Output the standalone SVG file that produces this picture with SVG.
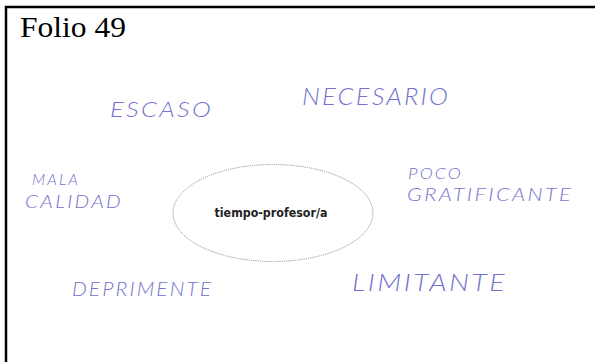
<svg xmlns="http://www.w3.org/2000/svg" width="595" height="362" viewBox="0 0 595 362">
<style>
.hw{font-family:"Lato","Open Sans","DejaVu Sans",sans-serif;font-weight:300;font-style:italic;fill:#7472cc;letter-spacing:2px}
.title{font-family:"Liberation Serif","Times New Roman",serif;font-size:29px;fill:#000}
.center{font-family:"DejaVu Sans","Liberation Sans",sans-serif;font-weight:bold;font-size:11.5px;fill:#222}
</style>
<rect x="0" y="0" width="595" height="362" fill="#fff"/>
<g id="frame">
<path d="M6 362 V7 H595" fill="none" stroke="#000" stroke-width="2.5"/>
</g>
<g id="title"><text class="title" x="20" y="37" textLength="106" lengthAdjust="spacingAndGlyphs">Folio 49</text></g>
<g id="connectors"></g>
<g id="node-center">
<ellipse cx="273" cy="213" rx="100" ry="48.5" fill="none" stroke="#888" stroke-width="0.9" stroke-dasharray="1.2 1"/>
<text class="center" x="271" y="217" text-anchor="middle" textLength="113" lengthAdjust="spacingAndGlyphs">tiempo-profesor/a</text>
</g>
<g id="node-escaso"><text class="hw" x="110" y="117" font-size="22" textLength="103" lengthAdjust="spacingAndGlyphs">ESCASO</text></g>
<g id="node-necesario"><text class="hw" x="302" y="105" font-size="24" textLength="148" lengthAdjust="spacingAndGlyphs">NECESARIO</text></g>
<g id="node-mala-calidad">
<text class="hw" x="32" y="185" font-size="15" textLength="48" lengthAdjust="spacingAndGlyphs">MALA</text>
<text class="hw" x="25" y="208" font-size="18" textLength="98" lengthAdjust="spacingAndGlyphs">CALIDAD</text>
</g>
<g id="node-poco-gratificante">
<text class="hw" x="408" y="179" font-size="16" textLength="55" lengthAdjust="spacingAndGlyphs">POCO</text>
<text class="hw" x="407" y="201" font-size="18" textLength="166" lengthAdjust="spacingAndGlyphs">GRATIFICANTE</text>
</g>
<g id="node-deprimente"><text class="hw" x="72" y="296" font-size="20" textLength="141" lengthAdjust="spacingAndGlyphs">DEPRIMENTE</text></g>
<g id="node-limitante"><text class="hw" x="352" y="291" font-size="23" textLength="155" lengthAdjust="spacingAndGlyphs">LIMITANTE</text></g>
</svg>
